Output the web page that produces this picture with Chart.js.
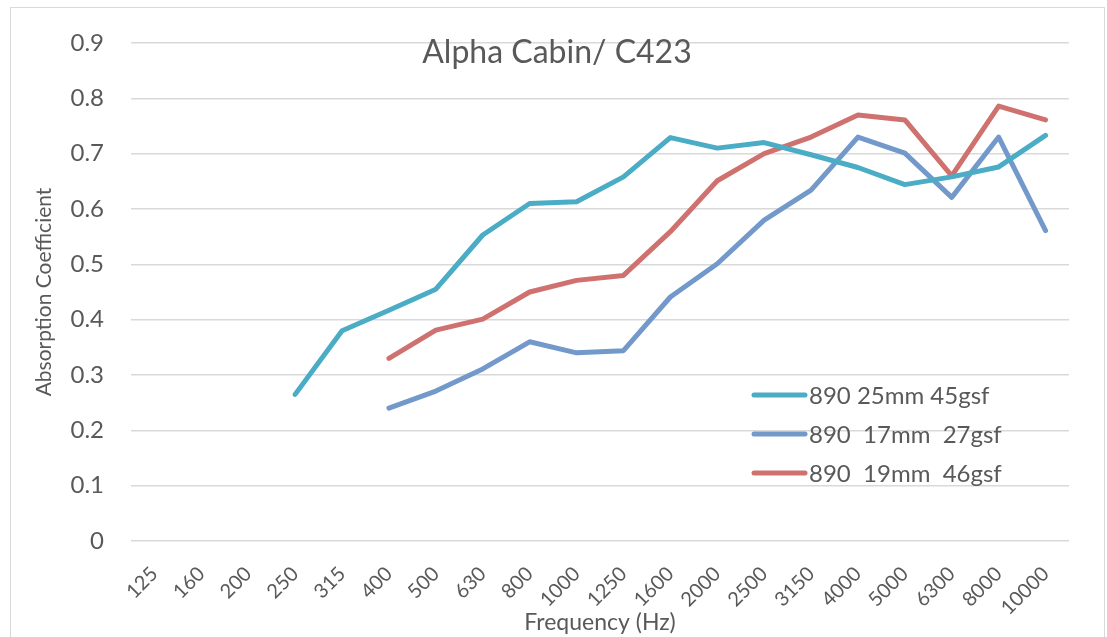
<html lang="en">
<head>
    <meta charset="UTF-8"></meta>
    <style>
        body {
            margin: 0;
            background-color: #fff;
        }

        .frame {
            position: relative;
            width: 1107px;
            height: 637px;
        }
    </style>
    <script src="https://cdn.jsdelivr.net/npm/chart.js"></script>
</head>
<body>
    <div class="frame">
        <canvas id="alphaChart" width="1107" height="637"></canvas>
    </div>
    <script>
        const frequencies = ["125", "160", "200", "250", "315", "400", "500", "630", "800", "1000",
            "1250", "1600", "2000", "2500", "3150", "4000", "5000", "6300", "8000", "10000"];

        // null = no measurement at that band
        const mm25 = [null, null, null, 0.265, 0.38, 0.417, 0.455, 0.553, 0.61, 0.613,
            0.658, 0.729, 0.71, 0.72, 0.698, 0.675, 0.644, 0.658, 0.676, 0.733];
        const mm17 = [null, null, null, null, null, 0.24, 0.271, 0.311, 0.36, 0.34,
            0.344, 0.441, 0.501, 0.58, 0.634, 0.73, 0.701, 0.621, 0.73, 0.561];
        const mm19 = [null, null, null, null, null, 0.33, 0.381, 0.401, 0.45, 0.471,
            0.48, 0.559, 0.651, 0.7, 0.73, 0.77, 0.761, 0.66, 0.786, 0.761];

        const seriesNames = ["890 25mm 45gsf", "890  17mm  27gsf", "890  19mm  46gsf"];
        const seriesColors = ["#4bacc6", "#7399cb", "#cf726f"];
        const yTicks = [0, 0.1, 0.2, 0.3, 0.4, 0.5, 0.6, 0.7, 0.8, 0.9];

        const textGrey = "#595959";
        const fontFamily = "Lato, 'Open Sans', sans-serif";

        // excel style overlay: chart border, title and legend sitting inside the plot
        const overlayPlugin = {
            id: "overlay",
            beforeDraw(chart) {
                const ctx = chart.ctx;
                ctx.save();
                ctx.strokeStyle = "#d9d9d9";
                ctx.lineWidth = 1;
                ctx.strokeRect(10.5, 7.5, 1094, 700);
                ctx.restore();
            },
            afterDraw(chart) {
                const ctx = chart.ctx;
                ctx.save();
                ctx.fillStyle = textGrey;
                ctx.font = "32px " + fontFamily;
                ctx.textAlign = "center";
                ctx.textBaseline = "middle";
                ctx.fillText("Alpha Cabin/ C423", 557, 53);

                ctx.font = "24px " + fontFamily;
                ctx.textAlign = "left";
                chart.data.datasets.forEach((ds, i) => {
                    const y = 395 + i * 39;
                    ctx.strokeStyle = ds.borderColor;
                    ctx.lineWidth = 5;
                    ctx.lineCap = "round";
                    ctx.beginPath();
                    ctx.moveTo(754, y);
                    ctx.lineTo(805, y);
                    ctx.stroke();
                    ctx.fillStyle = textGrey;
                    ctx.fillText(ds.label, 809, y + 1);
                });
                ctx.restore();
            }
        };

        const datasets = [mm25, mm17, mm19].map((values, i) => ({
            label: seriesNames[i],
            data: values,
            borderColor: seriesColors[i],
            backgroundColor: seriesColors[i],
            borderWidth: 5,
            borderCapStyle: "round",
            borderJoinStyle: "round",
            pointRadius: 0,
            tension: 0,
            spanGaps: false
        }));

        new Chart(document.getElementById("alphaChart"), {
            type: "line",
            data: { labels: frequencies, datasets: datasets },
            options: {
                responsive: false,
                animation: false,
                layout: { padding: { top: 43, right: 38, left: 0, bottom: 0 } },
                plugins: {
                    legend: { display: false },
                    title: { display: false },
                    tooltip: { enabled: false }
                },
                scales: {
                    x: {
                        offset: true,
                        grid: { display: false },
                        border: { display: false },
                        ticks: {
                            color: textGrey,
                            font: { family: fontFamily, size: 20 },
                            maxRotation: 45,
                            minRotation: 45,
                            padding: 13,
                            autoSkip: false
                        },
                        title: {
                            display: true,
                            text: "Frequency (Hz)",
                            color: textGrey,
                            font: { family: fontFamily, size: 23 },
                            padding: { top: 0, bottom: 1 }
                        },
                        afterFit(scale) { scale.height = 96; }
                    },
                    y: {
                        min: 0,
                        max: 0.9,
                        afterBuildTicks(scale) {
                            scale.ticks = yTicks.map(v => ({ value: v }));
                        },
                        grid: { color: "#d9d9d9", lineWidth: 1.5, drawTicks: false },
                        border: { display: false },
                        ticks: {
                            color: textGrey,
                            font: { family: fontFamily, size: 24 },
                            padding: 27,
                            callback: v => (v === 0 ? "0" : v.toFixed(1))
                        },
                        title: {
                            display: true,
                            text: "Absorption Coefficient",
                            color: textGrey,
                            font: { family: fontFamily, size: 21 },
                            padding: { top: 32, bottom: 0 }
                        },
                        afterFit(scale) { scale.width = 131; }
                    }
                }
            },
            plugins: [overlayPlugin]
        });
    </script>
</body>
</html>
